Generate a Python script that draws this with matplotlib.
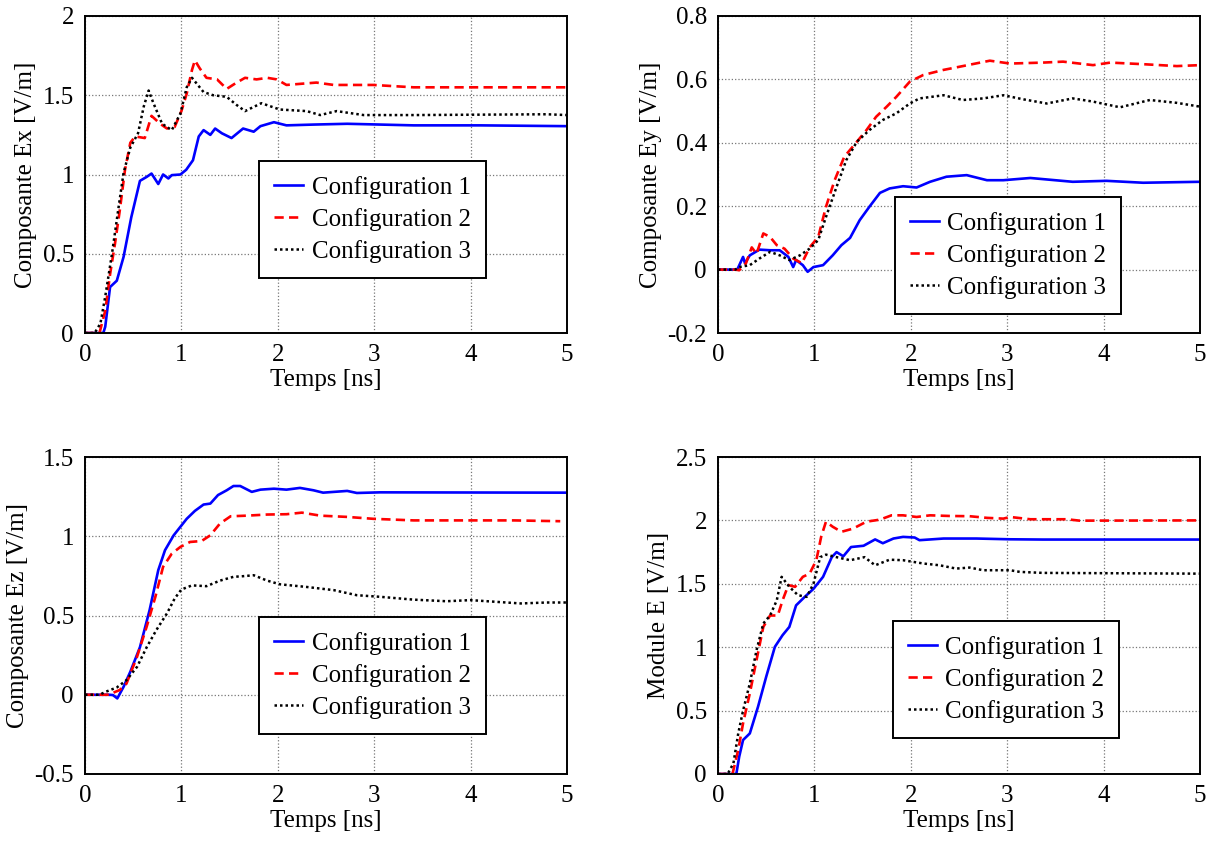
import numpy as np
import matplotlib.pyplot as plt

plt.rcParams['font.family'] = ['Liberation Serif', 'DejaVu Serif']
plt.rcParams['font.size'] = 18

labels = ('Configuration 1', 'Configuration 2', 'Configuration 3')

# --- Composante Ex
ex1_t = [0, 0.19, 0.21, 0.26, 0.33, 0.40, 0.48, 0.57, 0.64, 0.69, 0.76, 0.81, 0.865, 0.90, 0.99,
         1.05, 1.12, 1.18, 1.23, 1.30, 1.35, 1.42, 1.52, 1.64, 1.75, 1.82, 1.96, 2.09, 2.37, 2.72,
         3.41, 4.10, 5.0]
ex1 = [0, 0, 0.04, 0.29, 0.33, 0.48, 0.73, 0.96, 0.985, 1.006, 0.94, 1.0, 0.975, 0.996, 1.0,
       1.03, 1.09, 1.24, 1.28, 1.25, 1.29, 1.26, 1.23, 1.29, 1.27, 1.305, 1.33, 1.31, 1.315, 1.32,
       1.31, 1.31, 1.305]
ex2_t = [0, 0.15, 0.21, 0.26, 0.31, 0.36, 0.415, 0.47, 0.52, 0.62, 0.69, 0.78, 0.85, 0.93, 1.0,
         1.055, 1.11, 1.14, 1.19, 1.26, 1.37, 1.47, 1.56, 1.66, 1.78, 1.89, 1.99, 2.09, 2.40, 2.58,
         2.99, 3.41, 4.17, 5.0]
ex2 = [0, 0, 0.14, 0.37, 0.56, 0.77, 1.03, 1.2, 1.24, 1.23, 1.37, 1.32, 1.29, 1.30, 1.40,
       1.51, 1.66, 1.72, 1.67, 1.61, 1.60, 1.54, 1.575, 1.61, 1.60, 1.61, 1.60, 1.565, 1.58, 1.565,
       1.565, 1.55, 1.55, 1.55]
ex3_t = [0, 0.10, 0.16, 0.21, 0.28, 0.35, 0.40, 0.47, 0.55, 0.61, 0.66, 0.71, 0.80, 0.90, 0.99,
         1.055, 1.11, 1.23, 1.33, 1.47, 1.57, 1.66, 1.83, 2.02, 2.30, 2.44, 2.61, 2.89, 3.41, 4.79,
         5.0]
ex3 = [0, 0, 0.06, 0.23, 0.50, 0.80, 1.01, 1.17, 1.26, 1.43, 1.53, 1.45, 1.32, 1.28, 1.385,
       1.55, 1.61, 1.52, 1.50, 1.49, 1.44, 1.40, 1.45, 1.41, 1.40, 1.375, 1.40, 1.375, 1.375, 1.38,
       1.375]

# --- Composante Ey
ey1_t = [0, 0.2, 0.26, 0.28, 0.33, 0.43, 0.54, 0.64, 0.73, 0.78, 0.81, 0.88, 0.93, 0.99, 1.09,
         1.19, 1.28, 1.37, 1.47, 1.57, 1.68, 1.78, 1.92, 2.06, 2.20, 2.37, 2.58, 2.79, 2.96, 3.24,
         3.68, 4.03, 4.41, 5.0]
ey1 = [0, 0, 0.04, 0.02, 0.045, 0.063, 0.061, 0.061, 0.04, 0.008, 0.03, 0.014, -0.007, 0.008, 0.014,
       0.045, 0.077, 0.10, 0.156, 0.198, 0.242, 0.256, 0.263, 0.259, 0.277, 0.293, 0.298, 0.282, 0.282, 0.289,
       0.277, 0.28, 0.274, 0.277]
ey2_t = [0, 0.18, 0.22, 0.29, 0.35, 0.40, 0.47, 0.54, 0.61, 0.69, 0.78, 0.87, 0.95, 1.04, 1.12,
         1.21, 1.31, 1.44, 1.54, 1.64, 1.75, 1.85, 1.99, 2.13, 2.34, 2.54, 2.72, 2.82, 3.03, 3.37,
         3.58, 3.89, 4.07, 4.41, 4.76, 5.0]
ey2 = [0, 0, -0.002, 0.02, 0.07, 0.05, 0.114, 0.103, 0.077, 0.066, 0.035, 0.02, 0.07, 0.103, 0.198,
       0.282, 0.356, 0.403, 0.44, 0.482, 0.514, 0.545, 0.593, 0.614, 0.63, 0.642, 0.653, 0.659, 0.65, 0.653,
       0.656, 0.645, 0.653, 0.648, 0.642, 0.645]
ey3_t = [0, 0.18, 0.22, 0.33, 0.43, 0.54, 0.64, 0.74, 0.85, 0.95, 1.04, 1.12, 1.23, 1.33, 1.44,
         1.57, 1.71, 1.85, 1.99, 2.09, 2.34, 2.54, 2.75, 2.96, 3.17, 3.41, 3.68, 3.89, 4.17, 4.48,
         4.76, 5.0]
ey3 = [0, 0, 0.008, 0.014, 0.035, 0.056, 0.045, 0.03, 0.045, 0.066, 0.093, 0.166, 0.261, 0.345, 0.403,
       0.44, 0.472, 0.493, 0.524, 0.54, 0.55, 0.535, 0.54, 0.55, 0.537, 0.524, 0.54, 0.53, 0.512, 0.535,
       0.526, 0.514]

# --- Composante Ez
ez1_t = [0, 0.25, 0.29, 0.335, 0.40, 0.47, 0.57, 0.67, 0.76, 0.83, 0.92, 0.99, 1.055, 1.14, 1.23,
         1.30, 1.38, 1.47, 1.54, 1.61, 1.73, 1.82, 1.96, 2.09, 2.23, 2.37, 2.47, 2.72, 2.82, 3.06,
         5.0]
ez1 = [0, 0, -0.002, -0.023, 0.05, 0.145, 0.30, 0.534, 0.786, 0.912, 1.006, 1.06, 1.11, 1.16, 1.20,
       1.206, 1.26, 1.29, 1.317, 1.317, 1.28, 1.294, 1.30, 1.294, 1.305, 1.29, 1.275, 1.286, 1.273, 1.277,
       1.275]
ez2_t = [0, 0.25, 0.29, 0.36, 0.43, 0.54, 0.64, 0.73, 0.81, 0.90, 0.99, 1.09, 1.21, 1.30, 1.40,
         1.51, 1.68, 1.89, 2.09, 2.25, 2.44, 2.72, 2.99, 3.41, 4.10, 4.45, 4.72, 4.93]
ez2 = [0, 0, 0.012, 0.03, 0.07, 0.24, 0.43, 0.618, 0.807, 0.89, 0.933, 0.964, 0.97, 1.006, 1.08,
       1.126, 1.13, 1.137, 1.139, 1.149, 1.13, 1.122, 1.11, 1.10, 1.10, 1.10, 1.097, 1.095]
ez3_t = [0, 0.15, 0.22, 0.33, 0.43, 0.54, 0.64, 0.74, 0.85, 0.93, 1.0, 1.11, 1.26, 1.40, 1.54,
         1.64, 1.75, 1.89, 2.02, 2.30, 2.58, 2.82, 3.06, 3.41, 3.75, 4.0, 4.27, 4.52, 4.79, 5.0]
ez3 = [0, 0, 0.02, 0.046, 0.092, 0.176, 0.30, 0.408, 0.513, 0.607, 0.664, 0.69, 0.685, 0.72, 0.744,
       0.748, 0.754, 0.72, 0.697, 0.68, 0.66, 0.628, 0.618, 0.60, 0.59, 0.597, 0.586, 0.576, 0.582, 0.582]

# --- Module E
em1_t = [0, 0.19, 0.22, 0.26, 0.33, 0.415, 0.50, 0.59, 0.67, 0.74, 0.81, 0.90, 0.99, 1.09, 1.18,
         1.23, 1.30, 1.38, 1.51, 1.63, 1.71, 1.82, 1.92, 2.04, 2.09, 2.34, 2.68, 3.03, 3.37, 5.0]
em1 = [0, 0, 0.137, 0.268, 0.32, 0.53, 0.767, 1.003, 1.095, 1.16, 1.33, 1.397, 1.46, 1.555, 1.71,
       1.75, 1.717, 1.79, 1.80, 1.85, 1.82, 1.857, 1.87, 1.865, 1.844, 1.857, 1.857, 1.851, 1.849, 1.849]
em2_t = [0, 0.15, 0.21, 0.26, 0.33, 0.40, 0.47, 0.54, 0.62, 0.67, 0.73, 0.80, 0.88, 0.95, 1.02,
         1.07, 1.12, 1.19, 1.28, 1.40, 1.54, 1.68, 1.80, 1.92, 2.06, 2.20, 2.40, 2.61, 2.79, 2.96,
         3.03, 3.24, 3.62, 3.75, 5.0]
em2 = [0, 0, 0.19, 0.40, 0.636, 0.90, 1.16, 1.25, 1.25, 1.37, 1.49, 1.476, 1.555, 1.58, 1.686,
       1.87, 1.99, 1.95, 1.91, 1.935, 1.99, 2.006, 2.04, 2.04, 2.027, 2.04, 2.035, 2.033, 2.02, 2.014,
       2.027, 2.009, 2.009, 1.998, 2.0]
em3_t = [0, 0.10, 0.16, 0.21, 0.26, 0.33, 0.40, 0.47, 0.54, 0.61, 0.66, 0.74, 0.83, 0.92, 0.99,
         1.06, 1.12, 1.23, 1.37, 1.52, 1.63, 1.78, 1.92, 2.13, 2.30, 2.47, 2.61, 2.75, 3.03, 3.13,
         3.37, 5.0]
em3 = [0, 0, 0.084, 0.32, 0.50, 0.714, 0.977, 1.187, 1.25, 1.37, 1.555, 1.476, 1.41, 1.397, 1.50,
       1.71, 1.73, 1.71, 1.686, 1.71, 1.646, 1.69, 1.686, 1.66, 1.646, 1.62, 1.628, 1.607, 1.607, 1.594,
       1.586, 1.58]

panels = [
    ('Composante Ex [V/m]', (0, 2), [0, 0.5, 1, 1.5, 2], ['0', '0.5', '1', '1.5', '2'],
     [(ex1_t, ex1), (ex2_t, ex2), (ex3_t, ex3)], (0.361, 0.173)),
    ('Composante Ey [V/m]', (-0.2, 0.8), [-0.2, 0, 0.2, 0.4, 0.6, 0.8],
     ['-0.2', '0', '0.2', '0.4', '0.6', '0.8'],
     [(ey1_t, ey1), (ey2_t, ey2), (ey3_t, ey3)], (0.367, 0.06)),
    ('Composante Ez [V/m]', (-0.5, 1.5), [-0.5, 0, 0.5, 1, 1.5], ['-0.5', '0', '0.5', '1', '1.5'],
     [(ez1_t, ez1), (ez2_t, ez2), (ez3_t, ez3)], (0.361, 0.126)),
    ('Module E [V/m]', (0, 2.5), [0, 0.5, 1, 1.5, 2, 2.5], ['0', '0.5', '1', '1.5', '2', '2.5'],
     [(em1_t, em1), (em2_t, em2), (em3_t, em3)], (0.363, 0.114)),
]

styles = [
    dict(color='#0000ff', linestyle='-', linewidth=1.9),
    dict(color='#ff0000', linestyle=(0, (3.5, 2)), linewidth=1.9),
    dict(color='black', linestyle=(0, (1, 1.2)), linewidth=1.8),
]

W, H = 1217, 841
fig = plt.figure(figsize=(W / 100, H / 100), dpi=100)
rects = [
    (85, 16), (718, 16), (85, 457), (718, 457),
]
aw, ah = 482, 317

for (x0, y0), (ylabel, ylim, yt, ytl, curves, lpos) in zip(rects, panels):
    ax = fig.add_axes([x0 / W, 1 - (y0 + ah) / H, aw / W, ah / H])
    for (t, v), st, lab in zip(curves, styles, labels):
        ax.plot(t, v, label=lab, **st)
    ax.set_xlim(0, 5)
    ax.set_ylim(*ylim)
    ax.set_xticks([0, 1, 2, 3, 4, 5])
    ax.set_xticklabels(['0', '1', '2', '3', '4', '5'])
    ax.set_yticks(yt)
    ax.set_yticklabels(ytl)
    ax.tick_params(length=0, pad=8, labelsize=18)
    ax.grid(True, color='#777777', linestyle=':', linewidth=0.9)
    for s in ax.spines.values():
        s.set_linewidth(1.4)
    ax.set_xlabel('Temps [ns]', fontsize=18, labelpad=2)
    ax.set_ylabel(ylabel, fontsize=18, labelpad=4)
    leg = ax.legend(loc='lower left', bbox_to_anchor=lpos, fontsize=18,
                    fancybox=False, framealpha=1, edgecolor='black',
                    handlelength=1.15, handletextpad=0.35, labelspacing=0.36,
                    borderpad=0.6, borderaxespad=0)
    leg.get_frame().set_linewidth(1.4)

plt.savefig('out.png', dpi=100)
